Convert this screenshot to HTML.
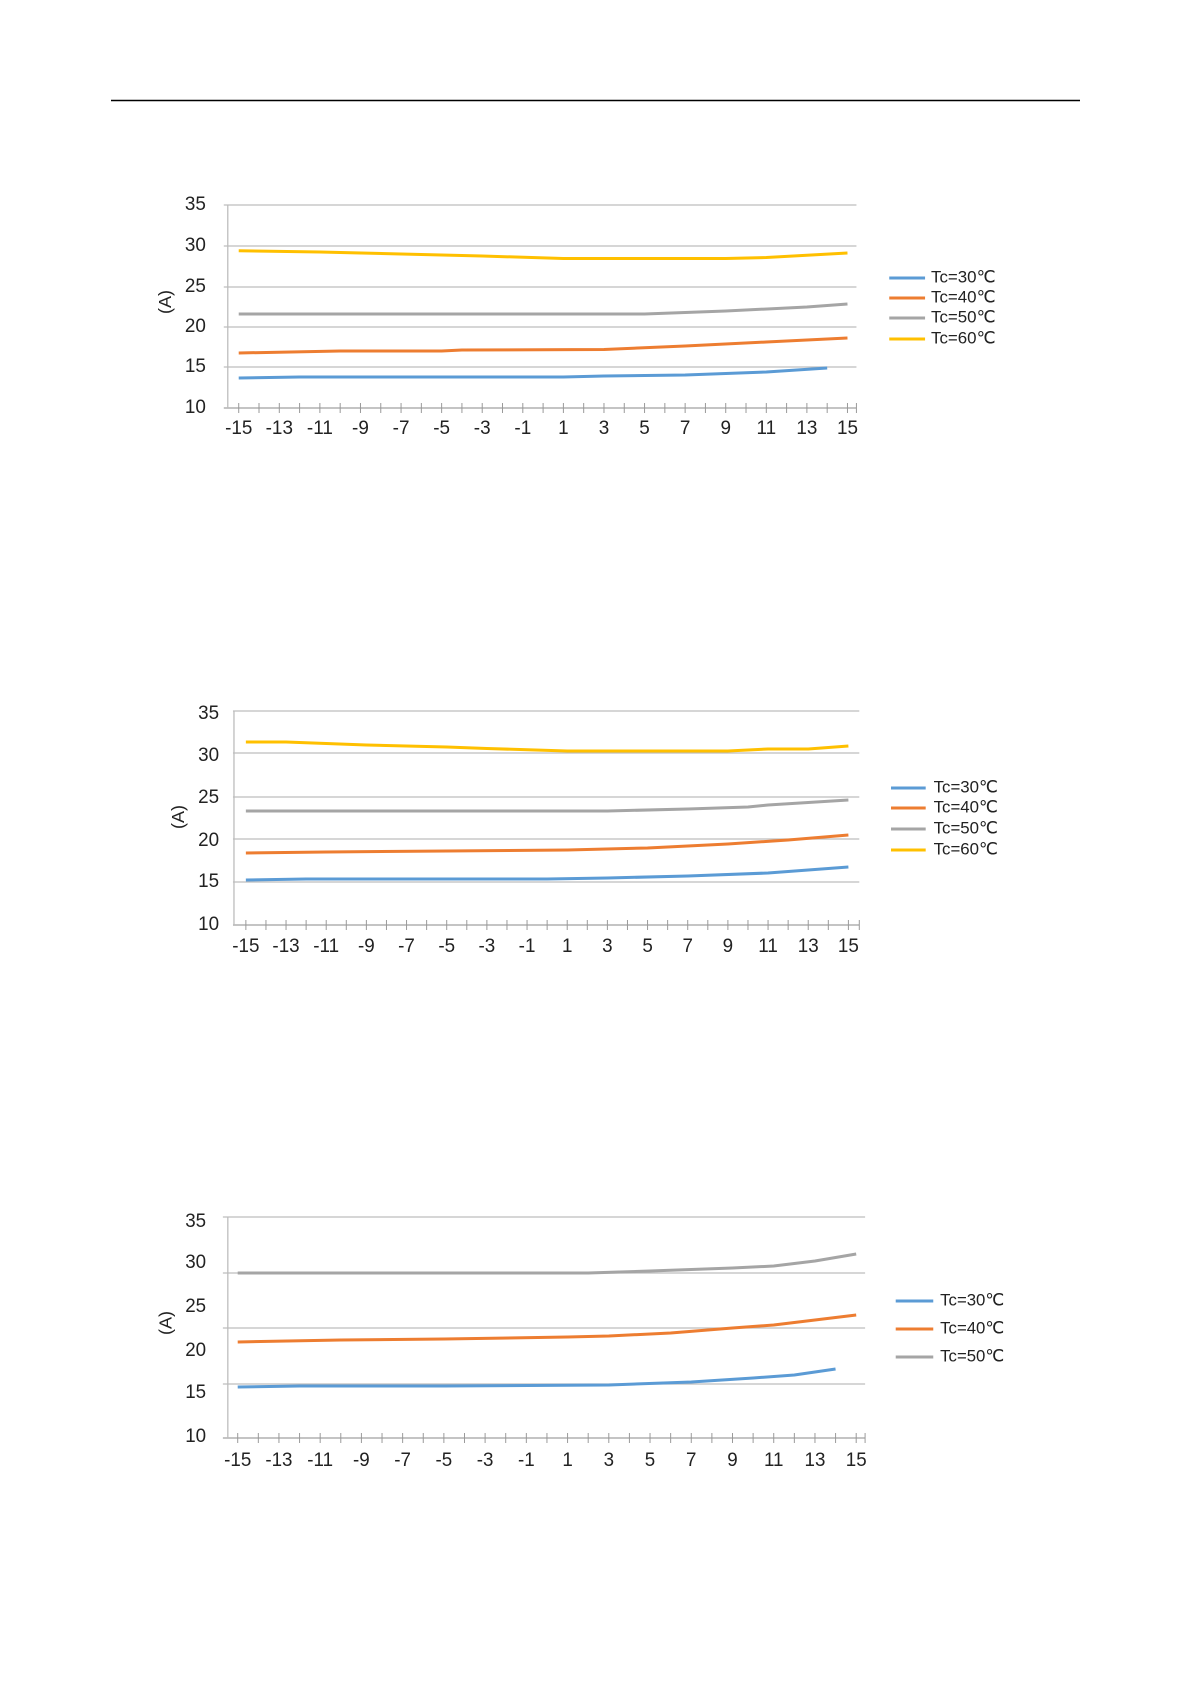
<!DOCTYPE html>
<html><head><meta charset="utf-8"><style>
html,body{margin:0;padding:0;background:#fff;}
svg{display:block;}
text{font-family:"Liberation Sans",sans-serif;fill:#222;}
</style></head><body>
<svg id="s" width="1191" height="1684" viewBox="0 0 1191 1684" xmlns="http://www.w3.org/2000/svg">
<line x1="111" y1="100.5" x2="1080" y2="100.5" stroke="#000" stroke-width="1.5"/>
</svg>
<script>
const S=document.getElementById('s');let h='';
const C={b:'#5B9BD5',o:'#ED7D31',g:'#A5A5A5',y:'#FFC000'};
function chart(c){
 const xs=v=>c.x0+(v+15)*(c.x1-c.x0)/30;
 h+=`<g transform="matrix(${c.t[0]} 0 0 1 ${c.t[1]} 0)">`;
 c.grid.forEach(y=>h+=`<line x1="${c.gx0}" y1="${y}" x2="${c.gx1}" y2="${y}" stroke="#bdbdbd" stroke-width="1.3"/>`);
 h+=`<line x1="${c.gx0}" y1="${c.ax}" x2="${c.gx1}" y2="${c.ax}" stroke="#a0a0a0" stroke-width="1.3"/>`;
 h+=`<line x1="${c.yx}" y1="${c.grid[0]}" x2="${c.yx}" y2="${c.ax}" stroke="#bdbdbd" stroke-width="1.3"/>`;
 for(let v=-15;v<=15;v++){const x=xs(v);h+=`<line x1="${x}" y1="${c.ax-5}" x2="${x}" y2="${c.ax+5}" stroke="#999" stroke-width="1"/>`;}
 h+=`<line x1="${c.gx1}" y1="${c.ax-5}" x2="${c.gx1}" y2="${c.ax+5}" stroke="#999" stroke-width="1"/>`;
 for(let v=-15;v<=15;v+=2)h+=`<text x="${xs(v)}" y="${c.ly}" font-size="19" text-anchor="middle" dominant-baseline="middle">${v}</text>`;
 c.yl.forEach((y,i)=>h+=`<text x="${c.ylx}" y="${y}" font-size="19" text-anchor="end" dominant-baseline="middle">${35-5*i}</text>`);
 h+=`<text x="${c.ax2[0]}" y="${c.ax2[1]}" font-size="18" text-anchor="middle" dominant-baseline="middle" transform="rotate(-90 ${c.ax2[0]} ${c.ax2[1]})">(A)</text>`;
 c.s.forEach(s=>{const p=s[1].map(q=>xs(q[0]).toFixed(1)+','+q[1]).join(' ');
  h+=`<polyline points="${p}" fill="none" stroke="${C[s[0]]}" stroke-width="3" stroke-linejoin="round"/>`;});
 c.leg.forEach((l,i)=>{const y=c.lr[i];h+=`<line x1="${c.lx[0]}" y1="${y}" x2="${c.lx[1]}" y2="${y}" stroke="${C[l]}" stroke-width="3"/>`;
  h+=`<text x="${c.lx[2]}" y="${y}" font-size="17" dominant-baseline="middle">Tc=${{b:30,o:40,g:50,y:60}[l]}℃</text>`;});
 h+='</g>';
}
chart({t:[0.9947,-2.0],x0:242,x1:854,gx0:227,gx1:863,yx:231,grid:[205,246,287,327,367],ax:408,ly:429,ylx:209,
 yl:[205,246,287,327,367,408],ax2:[169,302],
 s:[['y',[[-15,250.7],[-11,252],[-7,254],[-3,256],[1,258.5],[9,258.5],[11,257.5],[15,253]]],
    ['g',[[-15,314],[5,314],[9,311],[13,307],[15,304]]],
    ['o',[[-15,353],[-10,351],[-5,351],[-4,350],[3,349.5],[7,346],[11,342],[15,338]]],
    ['b',[[-15,378],[-12,377],[1,377],[3,376],[7,375],[11,372],[14,368]]]],
 leg:['b','o','g','y'],lr:[278,298,318,339],lx:[896,932,938]});
chart({t:[0.991,0.1],x0:248,x1:856,gx0:235,gx1:867,yx:236,grid:[711,753,797,839,882],ax:925,ly:947,ylx:221,
 yl:[714,756,798,841,882,925],ax2:[181,817],
 s:[['y',[[-15,742],[-13,742],[-9,745],[-5,747],[-3,748.5],[1,751],[9,751],[11,749],[13,749],[15,746]]],
    ['g',[[-15,811],[3,811],[7,809],[10,807],[11,805],[15,800]]],
    ['o',[[-15,853],[-11,852],[-5,851],[1,850],[5,848],[9,844],[12,840],[15,835]]],
    ['b',[[-15,880],[-12,879],[0,879],[3,878],[7,876],[11,873],[15,867]]]],
 leg:['b','o','g','y'],lr:[788,808,829,850],lx:[899,934,942]});
chart({t:[0.988,-0.4],x0:241,x1:867,gx0:226,gx1:876,yx:231,grid:[1217,1273,1328,1384],ax:1438,ly:1461,ylx:209,
 yl:[1222,1263,1307,1351,1393,1437],ax2:[169,1323],
 s:[['g',[[-15,1273],[2,1273],[5,1271],[9,1268],[11,1266],[13,1261],[15,1254]]],
    ['o',[[-15,1342],[-10,1340],[-5,1339],[1,1337],[3,1336],[6,1333],[9,1328],[11,1325],[13,1320],[15,1315]]],
    ['b',[[-15,1387],[-12,1386],[-5,1386],[3,1385],[7,1382],[10,1378],[12,1375],[14,1369]]]],
 leg:['b','o','g'],lr:[1301,1329,1357],lx:[907,945,952]});
S.insertAdjacentHTML('beforeend',h);
</script>
</body></html>
